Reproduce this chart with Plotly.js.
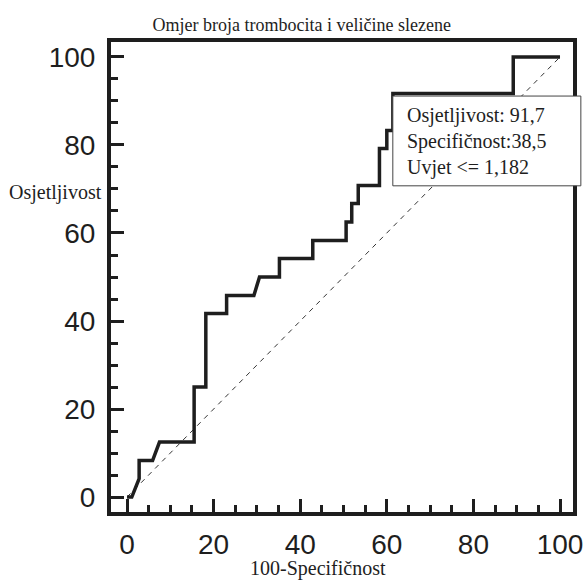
<!DOCTYPE html>
<html>
<head>
<meta charset="utf-8">
<script src="https://cdn.plot.ly/plotly-3.0.1.min.js"></script>
<style>
  html, body { margin: 0; padding: 0; background: #fff; }
  #chart { width: 586px; height: 585px; }
</style>
</head>
<body>
<div id="chart"></div>
<script>
// ROC curve: 100-Specificity (x) vs Sensitivity (y)
const rocX = [0, 1.1, 2.8, 2.8, 5.9, 7.5, 15.5, 15.5, 18.2, 18.2, 23.0, 23.0, 29.3, 30.6, 35.2, 35.2, 42.9, 42.9, 50.6, 50.6, 51.9, 51.9, 53.4, 53.4, 58.3, 58.3, 60.0, 60.0, 61.4, 61.4, 89.2, 89.2, 100];
const rocY = [0, 0, 4.2, 8.3, 8.3, 12.5, 12.5, 25.0, 25.0, 41.7, 41.7, 45.8, 45.8, 50.0, 50.0, 54.2, 54.2, 58.3, 58.3, 62.5, 62.5, 66.7, 66.7, 70.8, 70.8, 79.2, 79.2, 83.3, 83.3, 91.7, 91.7, 100, 100];
// reference (chance) diagonal
const refX = [0, 100];
const refY = [0, 100];
const tickValues = [0, 20, 40, 60, 80, 100];

const chartTitle = 'Omjer broja trombocita i veličine slezene';
const xTitle = '100-Specifičnost';
const yTitle = 'Osjetljivost';
const sensitivity = '91,7';
const specificity = '38,5';
const criterion = '1,182';

const serif = 'Liberation Serif, Times New Roman, serif';
const sans = 'Liberation Sans, Arial, sans-serif';
const ink = '#1e1e1e';

const traces = [
  {
    x: refX, y: refY, type: 'scatter', mode: 'lines',
    line: { color: '#333', width: 1, dash: '5px,5px' },
    hoverinfo: 'skip'
  },
  {
    x: rocX, y: rocY, type: 'scatter', mode: 'lines',
    line: { color: ink, width: 3.5, shape: 'linear' },
    hoverinfo: 'skip'
  }
];

const axisCommon = {
  tickvals: tickValues,
  ticktext: tickValues.map(String),
  ticks: 'inside',
  ticklen: 13,
  tickwidth: 3,
  tickcolor: ink,
  showline: true,
  linewidth: 4,
  linecolor: ink,
  mirror: true,
  showgrid: false,
  zeroline: false,
  tickfont: { family: sans, size: 28, color: ink },
  minor: { ticks: 'inside', ticklen: 7, tickwidth: 3, tickcolor: ink, dtick: 5, tick0: 0, showgrid: false },
  fixedrange: true
};

const layout = {
  width: 586,
  height: 585,
  margin: { l: 111, r: 13, t: 42, b: 73, pad: 0 },
  paper_bgcolor: '#fff',
  plot_bgcolor: '#fff',
  showlegend: false,
  title: {
    text: chartTitle,
    font: { family: serif, size: 18, color: ink },
    xref: 'container', x: 0.515, xanchor: 'center',
    yref: 'container', y: 0.957, yanchor: 'middle'
  },
  xaxis: Object.assign({}, axisCommon, { range: [-3.7, 103], ticklabelstandoff: 4 }),
  yaxis: Object.assign({}, axisCommon, { range: [-3.4, 103.4], ticklabelstandoff: 6 }),
  shapes: [
    {
      type: 'rect', xref: 'paper', yref: 'paper',
      x0: 0.610, x1: 1.017, y0: 0.694, y1: 0.885,
      fillcolor: '#fff', line: { color: '#444', width: 1 }, layer: 'above'
    }
  ],
  annotations: [
    {
      text: yTitle, xref: 'paper', yref: 'paper',
      x: -0.015, xanchor: 'right', y: 0.679, yanchor: 'middle',
      showarrow: false, font: { family: serif, size: 20, color: ink }
    },
    {
      text: xTitle, xref: 'paper', yref: 'paper',
      x: 0.448, xanchor: 'center', y: -0.120, yanchor: 'middle',
      showarrow: false, font: { family: serif, size: 20, color: ink }
    },
    {
      text: 'Osjetljivost: ' + sensitivity + '<br>Specifičnost:' + specificity + '<br>Uvjet &lt;= ' + criterion,
      xref: 'paper', yref: 'paper',
      x: 0.636, xanchor: 'left', y: 0.789, yanchor: 'middle', align: 'left',
      showarrow: false, font: { family: serif, size: 20, color: ink }
    }
  ]
};

Plotly.newPlot('chart', traces, layout, { staticPlot: true, displayModeBar: false });
</script>
</body>
</html>
